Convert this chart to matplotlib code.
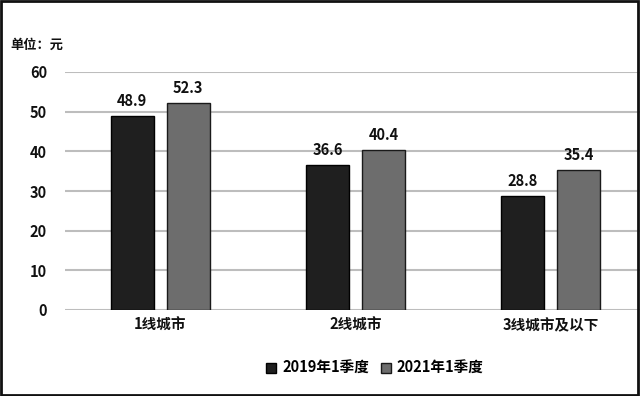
import matplotlib
matplotlib.use("Agg")
import matplotlib.pyplot as plt
import numpy as np
from matplotlib.patches import Rectangle

plt.rcParams['font.family'] = ['Noto Sans CJK SC', 'DejaVu Sans']

categories = ['1线城市', '2线城市', '3线城市及以下']
series_names = ['2019年1季度', '2021年1季度']
values_2019 = [48.9, 36.6, 28.8]
values_2021 = [52.3, 40.4, 35.4]
yticks = [0, 10, 20, 30, 40, 50, 60]

fig = plt.figure(figsize=(6.4, 3.96), dpi=100)
ax = fig.add_axes([65/640, 1-310/396, 581/640, 238/396])

x = np.arange(len(categories))
w = 0.22
off = 0.143
b1 = ax.bar(x - off, values_2019, w, color='#1f1f1f', edgecolor='#000000', linewidth=1.0,
            label=series_names[0], zorder=3)
b2 = ax.bar(x + off, values_2021, w, color='#6d6d6d', edgecolor='#1a1a1a', linewidth=1.0,
            label=series_names[1], zorder=3)

fw = 'bold'
for bars in (b1, b2):
    for r in bars:
        ax.annotate(f'{r.get_height():.1f}', (r.get_x() + r.get_width()/2, r.get_height()),
                    xytext=(0, 5), textcoords='offset points', ha='center', va='bottom',
                    fontsize=10.5, color='#111111', fontweight=fw)

ax.set_xlim(-0.488, 2.488)
ax.set_ylim(0, 60)
ax.set_yticks(yticks)
ax.set_yticklabels([str(t) for t in yticks], fontsize=10.5, color='#111111', fontweight=fw)
ax.set_xticks(x)
ax.set_xticklabels(categories, fontsize=10.5, color='#111111', fontweight=fw)
ax.tick_params(axis='both', length=0)
ax.tick_params(axis='y', pad=13)
ax.tick_params(axis='x', pad=5)
for s in ax.spines.values():
    s.set_visible(False)
ax.yaxis.grid(True, color='#bdbdbd', linewidth=1.5, zorder=0)
ax.set_axisbelow(True)

fig.text(10/640, 1-45/396, '单位：元', fontsize=9.5, color='#111111', va='center', ha='left',
         fontweight=fw)

leg = fig.legend(handles=[b1, b2], labels=series_names, loc='center', bbox_to_anchor=(375/640, 1-368/396),
                 ncol=2, frameon=False, handlelength=0.7, handleheight=0.7,
                 handletextpad=0.4, columnspacing=0.8,
                 prop={'size': 10.5, 'weight': fw})

fig.patches.append(Rectangle((0.0015, 0.002), 0.996, 0.996, transform=fig.transFigure,
                             fill=False, edgecolor='#111111', linewidth=2.0, zorder=10))

fig.savefig('out.png', dpi=100)
